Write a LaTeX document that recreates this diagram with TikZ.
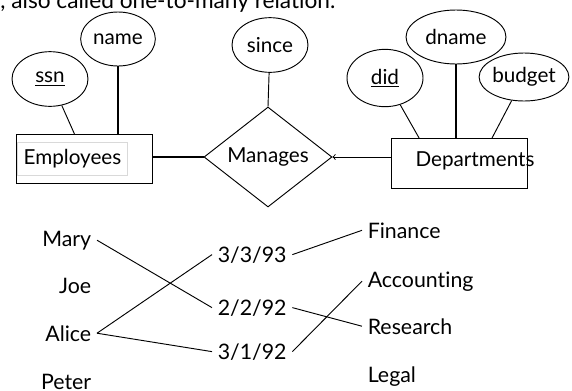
\documentclass[tikz,border=0pt]{standalone}
\usepackage{fontspec}
\setmainfont{Lato}[Ligatures=NoCommon]
\usetikzlibrary{calc,shapes.geometric}

\begin{document}
\begin{tikzpicture}[x=0.75pt,y=-0.75pt,line width=0.7pt,
	entity/.style={draw,rectangle,minimum width=102pt,minimum height=37pt},
	attr/.style={draw,ellipse,inner sep=0pt,font=\fontsize{15.5}{18}\selectfont},
	rel/.style={draw,diamond,inner sep=0pt,minimum width=96pt,minimum height=73pt,font=\fontsize{15.5}{18}\selectfont},
	lbl/.style={font=\fontsize{15.5}{18}\selectfont},
	inst/.style={inner sep=4pt,font=\fontsize{16}{19}\selectfont},
	heavy/.style={line width=1.6pt}]
	
	\useasboundingbox (0,0) rectangle (572,390);
	
	\node[anchor=base west,inner sep=0pt,font=\fontsize{17}{20}\selectfont] (caption) at (0,8) {, also called one-to-many relation.};
	
	% entity sets and the relationship
	\node[entity] (emp) at (84,159) {};
	
	\node[lbl,draw=gray!30,minimum width=83pt,minimum height=25pt] (emplbl) at (72.5,159) {Employees};
	
	\node[entity] (dept) at (459,163.5) {};
	
	\node[lbl] (deptlbl) at (475,161) {Departments};
	
	\node[rel] (manages) at (268,157) {Manages};
	
	% attributes
	\node[attr,minimum width=57pt,minimum height=41pt] (ssn) at (50,79) {\underline{ssn}};
	
	\node[attr,minimum width=56pt,minimum height=40.5pt] (name) at (118,39) {name};
	
	\node[attr,minimum width=57pt,minimum height=41pt] (since) at (270,45) {since};
	
	\node[attr,minimum width=57pt,minimum height=43pt] (did) at (385,78) {\underline{did}};
	
	\node[attr,minimum width=75pt,minimum height=40.5pt] (dname) at (456,37) {dname};
	
	\node[attr,minimum width=59pt,minimum height=36pt] (budget) at (524,77) {budget};
	
	\draw (ssn) -- ($(emp.north west)!0.43!(emp.north east)$);
	\draw[heavy] (name) -- (name |- emp.north);
	\draw (since) -- (manages.north);
	\draw[heavy] (manages.west -| emp.east) -- (manages.west);
	\draw[->] (manages.east -| dept.west) -- (manages.east);
	\draw (did) -- ($(dept.north west)!0.21!(dept.north east)$);
	\draw[heavy] (dname) -- (dname |- dept.north);
	\draw (budget) -- ($(dept.north west)!0.74!(dept.north east)$);
	
	% instances
	\node[inst,anchor=base east] (mary) at (97,246) {Mary};
	
	\node[inst,anchor=base east] (joe) at (97,293) {Joe};
	
	\node[inst,anchor=base east] (alice) at (97,341) {Alice};
	
	\node[inst,anchor=base east] (peter) at (97,389) {Peter};
	
	\node[inst,anchor=base west] (d1) at (212,262) {3/3/93};
	
	\node[inst,anchor=base west] (d2) at (212,315) {2/2/92};
	
	\node[inst,anchor=base west] (d3) at (212,359) {3/1/92};
	
	\node[inst,anchor=base west] (finance) at (362,238) {Finance};
	
	\node[inst,anchor=base west] (accounting) at (362,287) {Accounting};
	
	\node[inst,anchor=base west] (research) at (362,334) {Research};
	
	\node[inst,anchor=base west] (legal) at (362,382) {Legal};
	
	\draw (mary.east) -- (d2.west);
	\draw (alice.east) -- (d1.west);
	\draw (alice.east) -- (d3.west);
	\draw (d1.east) -- (finance.west);
	\draw (d2.east) -- (research.west);
	\draw (d3.east) -- (accounting.west);
	
\end{tikzpicture}
\end{document}
